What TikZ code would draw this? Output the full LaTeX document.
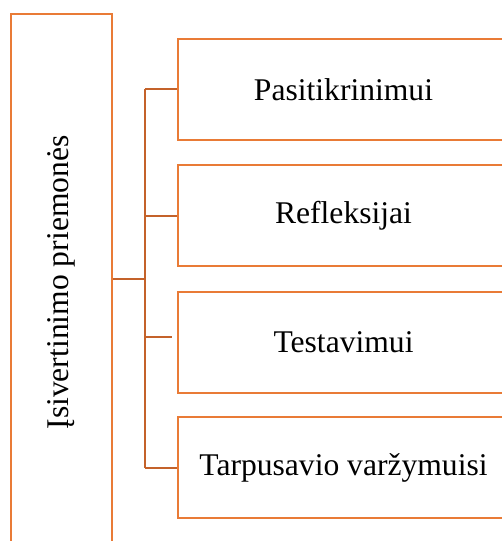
\documentclass[tikz,border=0pt]{standalone}
\usepackage{fontspec}
\setmainfont{Liberation Serif}
\usetikzlibrary{calc}
\definecolor{boxc}{HTML}{E97B36}
\definecolor{connc}{HTML}{C4622A}
\tikzset{
  box/.style={draw=boxc, line width=2pt, rectangle, minimum width=331pt, minimum height=101pt, inner sep=0pt, font=\fontsize{31.6}{38}\selectfont},
  leftbox/.style={draw=boxc, line width=2pt, rectangle, rotate=90, minimum width=537pt, minimum height=101pt, inner sep=0pt, font=\fontsize{31.6}{38}\selectfont},
  conn/.style={draw=connc, line width=2pt}
}
\begin{document}
\begin{tikzpicture}[x=1pt,y=1pt]
\useasboundingbox (0,0) rectangle (502,541);
\clip (0,0) rectangle (502,541);
\node[leftbox] (L) at (61.5,258.5) {Įsivertinimo priemonės};
\node[box] (b1) at (343.5,451.5) {Pasitikrinimui};
\node[box] (b2) at (343.5,325) {Refleksijai};
\node[box] (b3) at (343.5,198.5) {Testavimui};
\node[box] (b4) at (343.5,73) {Tarpusavio varžymuisi};
\coordinate (J) at (145,262);
\draw[conn] (L.south) ++(0,3.5) -- (J);
\draw[conn] (J |- b1.west) -- (J |- b4.west);
\draw[conn] (J |- b1.west) -- (b1.west);
\draw[conn] (J |- b2.west) -- (b2.west);
\coordinate (B3) at ($(b3.west)+(-5,5.5)$);
\draw[conn] (J |- B3) -- (B3);
\draw[conn] (J |- b4.west) -- (b4.west);
\end{tikzpicture}
\end{document}
